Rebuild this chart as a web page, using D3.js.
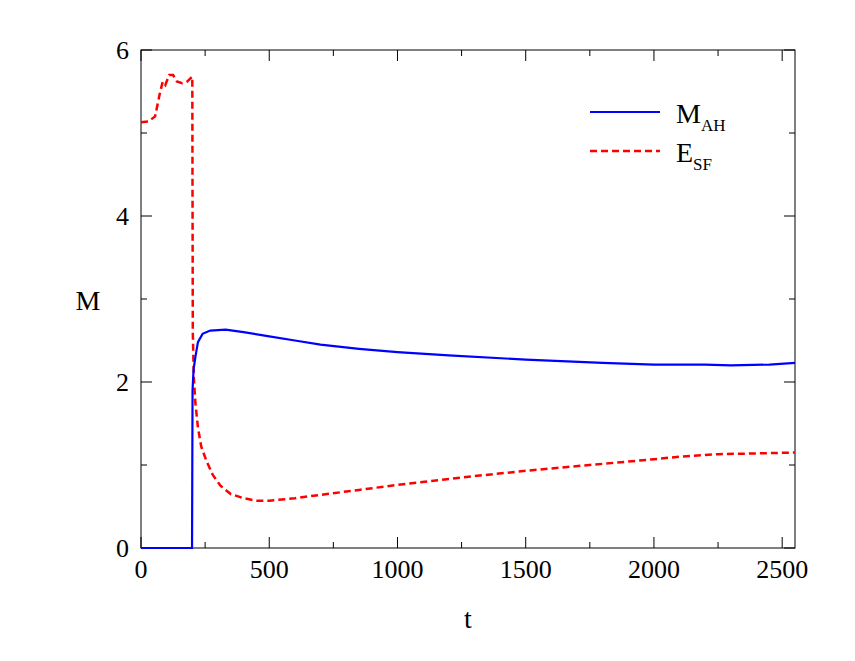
<!DOCTYPE html>
<html><head><meta charset="utf-8">
<script src="https://cdn.jsdelivr.net/npm/d3@7"></script>
<style>
body{margin:0;background:#fff}
text{font-family:"Liberation Serif","Times New Roman",serif}
</style></head>
<body><svg id="c" width="855" height="661"></svg>
<script>
// data
var mahT = [0, 100, 199, 201, 205, 212, 222, 240, 270, 330, 400, 500, 600, 700, 850, 1000, 1200, 1500, 1800, 2000, 2200, 2300, 2450, 2550];
var mahV = [0, 0, 0, 1.9, 2.15, 2.3, 2.48, 2.58, 2.62, 2.63, 2.6, 2.55, 2.5, 2.45, 2.4, 2.36, 2.32, 2.27, 2.23, 2.21, 2.21, 2.2, 2.21, 2.23];
var esfT = [0, 30, 55, 75, 85, 95, 110, 125, 140, 160, 180, 200, 202, 206, 212, 222, 235, 255, 280, 310, 350, 400, 450, 500, 600, 700, 850, 1000, 1250, 1500, 1750, 2000, 2100, 2250, 2400, 2550];
var esfV = [5.13, 5.14, 5.2, 5.5, 5.62, 5.58, 5.7, 5.7, 5.62, 5.6, 5.62, 5.68, 2.6, 2.05, 1.75, 1.45, 1.22, 1.05, 0.88, 0.75, 0.65, 0.6, 0.57, 0.57, 0.6, 0.64, 0.7, 0.76, 0.85, 0.93, 1.0, 1.07, 1.1, 1.13, 1.14, 1.15];
var xTicks = [0, 500, 1000, 1500, 2000, 2500];
var yTicks = [0, 2, 4, 6];

var svg = d3.select("#c");
var L = 141, R = 795, T = 50, B = 548;
var x = d3.scaleLinear().domain([0, 2550]).range([L, R]);
var y = d3.scaleLinear().domain([0, 6]).range([B, T]);

d3.range(0, 2551, 250).forEach(function(v) {
    var len = v % 500 == 0 ? 11 : 6;
    svg.append("line").attr("x1", x(v)).attr("x2", x(v)).attr("y1", B).attr("y2", B - len).attr("stroke", "#000");
    svg.append("line").attr("x1", x(v)).attr("x2", x(v)).attr("y1", T).attr("y2", T + len).attr("stroke", "#000");
});
d3.range(0, 6.01, 1).forEach(function(v) {
    var len = v % 2 == 0 ? 11 : 6;
    svg.append("line").attr("y1", y(v)).attr("y2", y(v)).attr("x1", L).attr("x2", L + len).attr("stroke", "#000");
    svg.append("line").attr("y1", y(v)).attr("y2", y(v)).attr("x1", R).attr("x2", R - len).attr("stroke", "#000");
});
svg.append("rect").attr("x", L).attr("y", T).attr("width", R - L).attr("height", B - T)
    .attr("fill", "none").attr("stroke", "#000");

xTicks.forEach(function(v) {
    svg.append("text").attr("x", x(v)).attr("y", B + 30).attr("text-anchor", "middle")
        .attr("font-size", 26).text(v);
});
yTicks.forEach(function(v) {
    svg.append("text").attr("x", L - 12).attr("y", y(v) + 9).attr("text-anchor", "end")
        .attr("font-size", 26).text(v);
});
svg.append("text").attr("x", (L + R) / 2).attr("y", 628).attr("text-anchor", "middle").attr("font-size", 28).text("t");
svg.append("text").attr("x", 88).attr("y", 310).attr("text-anchor", "middle").attr("font-size", 28).text("M");

var line = d3.line().x(function(d) { return x(d[0]); }).y(function(d) { return y(d[1]); });
svg.append("path").datum(d3.zip(esfT, esfV)).attr("d", line).attr("fill", "none")
    .attr("stroke", "#f00").attr("stroke-width", 2.5).attr("stroke-dasharray", "7,4");
svg.append("path").datum(d3.zip(mahT, mahV)).attr("d", line).attr("fill", "none")
    .attr("stroke", "#00f").attr("stroke-width", 2.2);

// legend
svg.append("line").attr("x1", 590).attr("x2", 660).attr("y1", 112).attr("y2", 112).attr("stroke", "#00f").attr("stroke-width", 2.2);
svg.append("line").attr("x1", 590).attr("x2", 660).attr("y1", 151).attr("y2", 151).attr("stroke", "#f00").attr("stroke-width", 2.5).attr("stroke-dasharray", "7,4");
var t1 = svg.append("text").attr("x", 676).attr("y", 123).attr("font-size", 28).text("M");
t1.append("tspan").attr("dy", 8).attr("font-size", 17).text("AH");
var t2 = svg.append("text").attr("x", 676).attr("y", 162).attr("font-size", 28).text("E");
t2.append("tspan").attr("dy", 8).attr("font-size", 17).text("SF");
</script></body></html>
